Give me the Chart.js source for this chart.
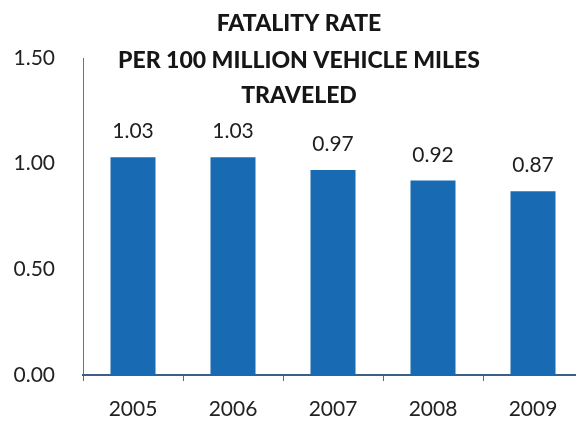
<!DOCTYPE html>
<html>
<head>
<meta charset="utf-8">
<script src="https://cdn.jsdelivr.net/npm/chart.js@4/dist/chart.umd.min.js"></script>
<style>
  html, body { margin: 0; padding: 0; background: #fff; overflow: hidden; }
  #wrap { width: 583px; height: 421px; }
</style>
</head>
<body>
<div id="wrap"><canvas id="fatalityChart" width="583" height="421"></canvas></div>
<script>
// values
const years = ["2005", "2006", "2007", "2008", "2009"];
const fatalityRate = [1.03, 1.03, 0.97, 0.92, 0.87];
const titleLines = ["FATALITY RATE", "PER 100 MILLION VEHICLE MILES", "TRAVELED"];

// title sits over the plot, so draw it by hand instead of the title box
const titleOverlay = {
  id: "titleOverlay",
  afterDraw(chart) {
    const ctx = chart.ctx;
    ctx.save();
    ctx.font = "900 23px Lato";
    ctx.fillStyle = "#161616";
    ctx.textAlign = "center";
    ctx.textBaseline = "middle";
    const ys = [24, 61, 96];
    titleLines.forEach((t, i) => ctx.fillText(t, 299, ys[i]));
    ctx.restore();
  }
};

// value labels above each bar
const barValues = {
  id: "barValues",
  afterDatasetsDraw(chart) {
    const ctx = chart.ctx;
    const meta = chart.getDatasetMeta(0);
    ctx.save();
    ctx.font = "21px Lato";
    ctx.fillStyle = "#1e1e1e";
    ctx.textAlign = "center";
    ctx.textBaseline = "alphabetic";
    meta.data.forEach((bar, i) => {
      ctx.fillText(fatalityRate[i].toFixed(2), bar.x, bar.y - 19);
    });
    ctx.restore();
  }
};

new Chart("fatalityChart", {
  type: "bar",
  data: {
    labels: years,
    datasets: [{
      data: fatalityRate,
      backgroundColor: "#186bb3",
      borderWidth: 0,
      barPercentage: 0.45,
      categoryPercentage: 1.0
    }]
  },
  options: {
    responsive: false,
    animation: false,
    layout: { padding: { left: 12, top: 58, right: 0, bottom: 0 } },
    plugins: {
      legend: { display: false },
      title: { display: false },
      tooltip: { enabled: false }
    },
    scales: {
      y: {
        min: 0,
        max: 1.5,
        ticks: {
          stepSize: 0.5,
          padding: 28,
          color: "#222",
          font: { family: "Lato", size: 21 },
          callback: v => Number(v).toFixed(2)
        },
        grid: { display: false, drawTicks: false },
        border: { display: true, color: "#3f7fc0", width: 1 },
        afterFit: s => { s.width = 71; }
      },
      x: {
        ticks: {
          padding: 16,
          color: "#222",
          font: { family: "Lato", size: 21 }
        },
        grid: {
          display: true,
          offset: true,
          drawOnChartArea: false,
          drawTicks: true,
          tickLength: 6,
          color: "#50698a"
        },
        border: { display: true, color: "#3e5f85", width: 2 },
        afterFit: s => { s.height = 46; }
      }
    }
  },
  plugins: [titleOverlay, barValues]
});
</script>
</body>
</html>
